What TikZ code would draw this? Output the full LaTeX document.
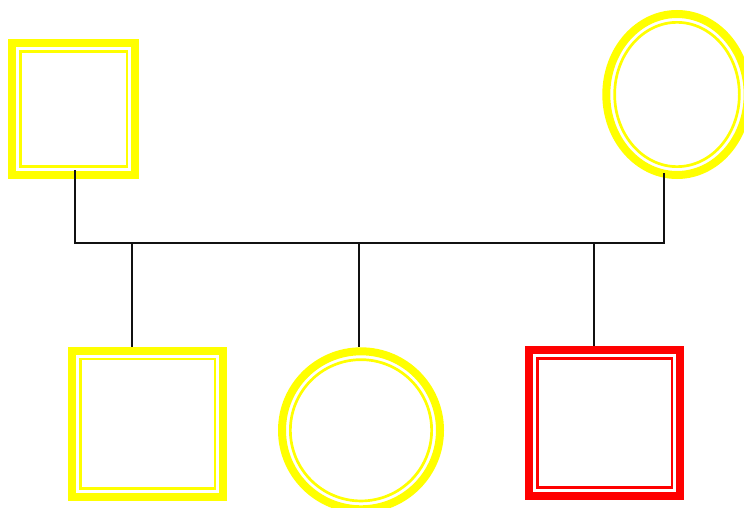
\documentclass[tikz,border=0pt]{standalone}
\usepackage{xcolor}
\definecolor{CarrierYellow}{HTML}{FFFF00}
\definecolor{AffectedRed}{HTML}{FF0000}
\definecolor{LinkBlack}{HTML}{111111}
\usetikzlibrary{shapes.geometric}

\begin{document}
\begin{tikzpicture}[
  x=1pt, y=-1pt,
  person/.style={line width=8pt, inner sep=0pt},
  male/.style={person, rectangle, minimum width=151.3pt, minimum height=146pt},
  female/.style={person, circle, minimum size=158pt},
  carrier/.style={draw=CarrierYellow},
  affected/.style={draw=AffectedRed},
  innerline/.style={line width=2.7pt},
  link/.style={draw=LinkBlack, line width=2pt}
]
\useasboundingbox (0,0) rectangle (744,508);

% parents
\node[male, carrier, minimum width=123.3pt, minimum height=132pt]
  (FATHER) at (73.6,109) {};
\node[person, ellipse, carrier, minimum width=141.4pt, minimum height=161pt]
  (MOTHER) at (677,94.5) {};

% children
\node[male, carrier]    (SON)      at (147.7,423.7) {};
\node[female, carrier]  (DAUGHTER) at (361,430.3) {};
\node[male, affected]   (PROBAND)  at (604.7,423) {};

% inner outlines
\draw[innerline, CarrierYellow]
  ([shift={(12.35,12.35)}]FATHER.north west) rectangle
  ([shift={(-12.35,-12.35)}]FATHER.south east);
\draw[innerline, CarrierYellow] (MOTHER.center)
  ellipse [x radius=62.35, y radius=72.15];
\draw[innerline, CarrierYellow]
  ([shift={(12.35,12.35)}]SON.north west) rectangle
  ([shift={(-12.35,-12.35)}]SON.south east);
\draw[innerline, CarrierYellow] (DAUGHTER.center) circle [radius=70.65];
\draw[innerline, AffectedRed]
  ([shift={(12.35,12.35)}]PROBAND.north west) rectangle
  ([shift={(-12.35,-12.35)}]PROBAND.south east);

% mating line
\coordinate (leftend)  at (75,243);
\coordinate (rightend) at (664,243);
\draw[link, shorten <=-9pt, shorten >=-6pt]
  (leftend |- FATHER.south) -- (leftend) -- (rightend) --
  (rightend |- MOTHER.south);

% descent lines
\coordinate (drop1) at (132,243);
\coordinate (drop2) at (359,243);
\coordinate (drop3) at (594,243);
\draw[link] (drop1) -- (drop1 |- SON.north);
\draw[link] (drop2) -- (drop2 |- DAUGHTER.north);
\draw[link] (drop3) -- (drop3 |- PROBAND.north);

\end{tikzpicture}
\end{document}
